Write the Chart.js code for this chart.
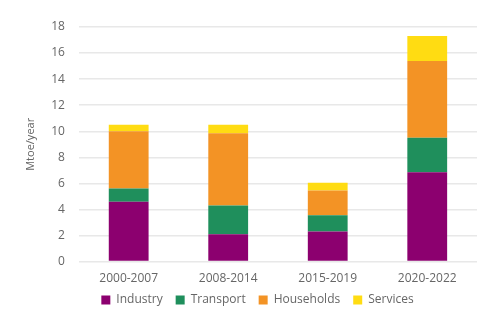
<!DOCTYPE html>
<html>
<head>
<meta charset="utf-8">
<script src="https://cdn.jsdelivr.net/npm/chart.js@4"></script>
<style>
  html, body { margin: 0; padding: 0; background: #fff; }
  #wrap { width: 500px; height: 329px; }
</style>
</head>
<body>
<div id="wrap"><canvas id="energyChart"></canvas></div>
<script>
const periods = ["2000-2007", "2008-2014", "2015-2019", "2020-2022"];
const industry = [4.6, 2.1, 2.3, 6.85];
const transport = [1.0, 2.2, 1.25, 2.65];
const households = [4.4, 5.55, 1.9, 5.9];
const services = [0.5, 0.65, 0.6, 1.9];
const yTicks = [0, 2, 4, 6, 8, 10, 12, 14, 16, 18];

Chart.defaults.font.family = "'Open Sans', sans-serif";
Chart.defaults.color = "#666";

function bars(label, values, colour) {
  return {
    label: label,
    data: values,
    backgroundColor: colour,
    borderWidth: 0,
    barPercentage: 0.8,
    categoryPercentage: 0.5
  };
}

// legend padding is wide for spacing between items, so nudge the box into place
const legendNudge = {
  id: "legendNudge",
  afterLayout(chart) {
    const lg = chart.legend;
    lg.top -= 7;
    lg.bottom -= 7;
    lg.left += 9;
    lg.right += 9;
  }
};

const ctx = document.getElementById("energyChart").getContext("2d");
const chart = new Chart(ctx, {
  type: "bar",
  data: {
    labels: periods,
    datasets: [
      bars("Industry", industry, "#8c006f"),
      bars("Transport", transport, "#1f8f5c"),
      bars("Households", households, "#f39325"),
      bars("Services", services, "#ffdc12")
    ]
  },
  plugins: [legendNudge],
  options: {
    responsive: true,
    maintainAspectRatio: false,
    animation: false,
    layout: { padding: { top: 27, right: 23, bottom: 11, left: 20 } },
    plugins: {
      tooltip: { enabled: false },
      legend: {
        position: "bottom",
        maxHeight: 30,
        labels: {
          boxWidth: 9,
          boxHeight: 9,
          padding: 13,
          font: { size: 12 },
          color: "#666"
        }
      }
    },
    scales: {
      x: {
        stacked: true,
        grid: { display: false },
        border: { display: false },
        ticks: { font: { size: 12 }, padding: 2 }
      },
      y: {
        stacked: true,
        min: 0,
        max: 18,
        afterBuildTicks: (axis) => { axis.ticks = yTicks.map(v => ({ value: v })); },
        grid: { color: "#e8e8e8", lineWidth: 1.5, drawTicks: false },
        border: { display: false },
        ticks: { font: { size: 12 }, padding: 14 },
        title: { display: true, text: "Mtoe/year", font: { size: 11 }, padding: { top: 4, bottom: 0 } }
      }
    }
  }
});
</script>
</body>
</html>
